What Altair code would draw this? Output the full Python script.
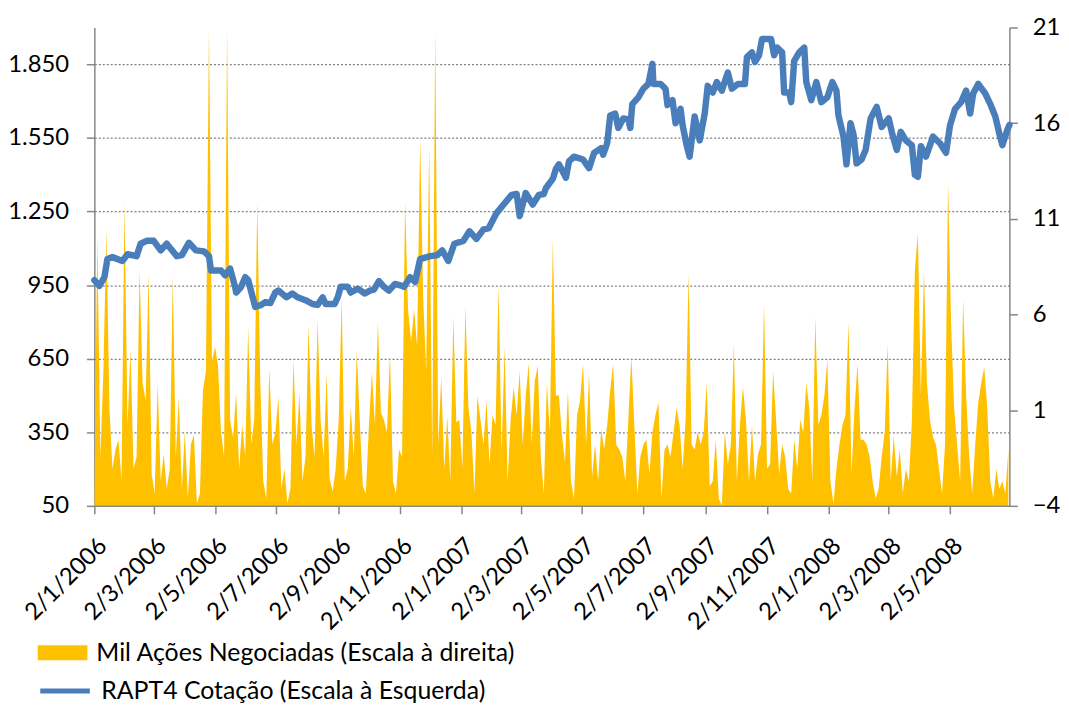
import altair as alt
import pandas as pd

FONT = "Lato"
VOL_LABEL = "Mil Ações Negociadas (Escala à direita)"
PRICE_LABEL = "RAPT4 Cotação (Escala à Esquerda)"
VOL_COLOR = "#FFC000"
PRICE_COLOR = "#4A7EBB"

# --- RAPT4 price (right scale) ---
price_dates_2006 = ["2006-01-02", "2006-01-07", "2006-01-12", "2006-01-15", "2006-01-20", "2006-01-30",
                    "2006-02-04", "2006-02-13", "2006-02-17", "2006-02-23",
                    "2006-03-02", "2006-03-09", "2006-03-15", "2006-03-25", "2006-03-30",
                    "2006-04-06", "2006-04-13", "2006-04-21", "2006-04-26", "2006-04-28",
                    "2006-05-08", "2006-05-12", "2006-05-17", "2006-05-22", "2006-05-23", "2006-05-28",
                    "2006-06-01", "2006-06-04", "2006-06-11", "2006-06-17", "2006-06-21", "2006-06-26",
                    "2006-07-01", "2006-07-04", "2006-07-12", "2006-07-18", "2006-07-23", "2006-07-31",
                    "2006-08-07", "2006-08-12", "2006-08-17", "2006-08-20", "2006-08-29",
                    "2006-09-01", "2006-09-04", "2006-09-11", "2006-09-14", "2006-09-21", "2006-09-28",
                    "2006-10-03", "2006-10-07", "2006-10-12", "2006-10-17", "2006-10-22", "2006-10-28",
                    "2006-11-04", "2006-11-06", "2006-11-12", "2006-11-17", "2006-11-22",
                    "2006-12-02", "2006-12-09", "2006-12-14", "2006-12-20", "2006-12-26"]
price_values_2006 = [7.8, 7.5, 7.95, 8.9, 9.0, 8.8,
                     9.15, 9.05, 9.7, 9.85,
                     9.85, 9.35, 9.7, 9.05, 9.1,
                     9.75, 9.35, 9.3, 9.05, 8.3,
                     8.3, 8.05, 8.4, 7.45, 7.15, 7.45,
                     7.95, 7.8, 6.4, 6.5, 6.65, 6.6,
                     7.15, 7.25, 6.9, 7.1, 6.9, 6.75,
                     6.55, 6.5, 6.9, 6.55, 6.55,
                     6.9, 7.45, 7.45, 7.15, 7.35, 7.1,
                     7.25, 7.3, 7.75, 7.45, 7.25, 7.6,
                     7.5, 7.45, 7.95, 7.7, 8.9,
                     9.05, 9.1, 9.35, 8.8, 9.7]

price_dates_2007 = ["2007-01-04", "2007-01-10", "2007-01-17", "2007-01-24", "2007-01-29",
                    "2007-02-06", "2007-02-13", "2007-02-21", "2007-02-26",
                    "2007-03-01", "2007-03-07", "2007-03-14", "2007-03-20", "2007-03-25", "2007-03-27",
                    "2007-04-03", "2007-04-06", "2007-04-09", "2007-04-16", "2007-04-19", "2007-04-24",
                    "2007-05-03", "2007-05-09", "2007-05-14", "2007-05-21", "2007-05-23", "2007-05-27", "2007-05-30",
                    "2007-06-04", "2007-06-07", "2007-06-12", "2007-06-17", "2007-06-19", "2007-06-21", "2007-06-27",
                    "2007-07-02", "2007-07-07", "2007-07-11", "2007-07-12", "2007-07-19", "2007-07-24", "2007-07-26", "2007-07-31",
                    "2007-08-03", "2007-08-08", "2007-08-10", "2007-08-14", "2007-08-17", "2007-08-22", "2007-08-27",
                    "2007-09-01", "2007-09-04", "2007-09-09", "2007-09-13", "2007-09-18", "2007-09-24", "2007-09-28",
                    "2007-10-04", "2007-10-11", "2007-10-13", "2007-10-18", "2007-10-21", "2007-10-25", "2007-10-28",
                    "2007-11-06", "2007-11-09", "2007-11-12", "2007-11-17", "2007-11-19", "2007-11-24", "2007-11-26", "2007-11-29",
                    "2007-12-04", "2007-12-09", "2007-12-11", "2007-12-16", "2007-12-21", "2007-12-26"]
price_values_2007 = [9.85, 10.35, 9.95, 10.45, 10.5,
                     11.3, 11.75, 12.25, 12.3,
                     11.15, 12.35, 11.75, 12.25, 12.3, 12.6,
                     13.1, 13.6, 13.85, 13.15, 14.0, 14.25,
                     14.1, 13.65, 14.45, 14.7, 14.35, 14.95, 16.4,
                     16.5, 15.75, 16.25, 16.2, 15.75, 17.0, 17.35,
                     17.8, 18.05, 19.1, 18.05, 18.05, 17.8, 16.95, 17.2,
                     16.0, 16.75, 15.9, 14.85, 14.25, 16.35, 15.1,
                     16.5, 17.95, 17.6, 18.15, 17.7, 18.65, 17.8,
                     18.05, 18.05, 19.45, 19.7, 19.2, 19.55, 20.4,
                     20.4, 19.55, 19.95, 19.7, 17.6, 17.6, 17.1, 19.25,
                     19.7, 19.95, 18.15, 17.2, 18.15, 17.1]

price_dates_2008 = ["2008-01-01", "2008-01-06", "2008-01-10", "2008-01-12", "2008-01-17", "2008-01-20",
                    "2008-01-24", "2008-01-27", "2008-01-30",
                    "2008-02-04", "2008-02-08", "2008-02-13", "2008-02-19", "2008-02-24",
                    "2008-03-02", "2008-03-05", "2008-03-10", "2008-03-14", "2008-03-19", "2008-03-25",
                    "2008-03-28", "2008-03-31",
                    "2008-04-03", "2008-04-08", "2008-04-15", "2008-04-22", "2008-04-28",
                    "2008-05-02", "2008-05-07", "2008-05-13", "2008-05-18", "2008-05-22", "2008-05-25", "2008-05-30",
                    "2008-06-06", "2008-06-11", "2008-06-16", "2008-06-20", "2008-06-23", "2008-06-28", "2008-06-30"]
price_values_2008 = [17.35, 18.15, 17.7, 16.4, 15.3, 13.85,
                     16.0, 15.4, 13.9,
                     14.1, 14.6, 16.25, 16.85, 15.8,
                     16.25, 15.55, 14.6, 15.55, 15.1, 14.85,
                     13.3, 13.2,
                     14.8, 14.25, 15.3, 14.95, 14.45,
                     15.9, 16.75, 17.1, 17.7, 16.5, 17.55, 18.05,
                     17.55, 17.0, 16.35, 15.45, 14.85, 15.65, 15.9]

# --- thousand shares traded (left scale), one reading every 3 days from 2006-01-02 ---
vol_start = "2006-01-02"
vol_values = [
    120, 1150, 250, 600, 1180, 450, 200, 280, 320, 150,
    1290, 380, 685, 200, 250, 1010, 550, 480, 1000, 180,
    100, 550, 150, 260, 120, 200, 990, 250, 490, 120,
    350, 80, 300, 340, 60, 100, 520, 600, 2000, 640,
    700, 620, 350, 250, 2000, 400, 330, 510, 200, 380,
    250, 780,
    300, 400, 1290, 560, 150, 80, 610, 300, 350, 495,
    120, 200, 60, 120, 645, 300, 510, 150, 250, 786,
    380, 250, 810, 400, 250, 590, 160, 110, 200, 400,
    900, 150, 200, 450, 250, 680, 395, 130, 100, 370,
    595, 380, 800, 430, 400, 350, 670, 150, 100, 280,
    250,
    1290, 850, 720, 850, 700, 1550, 900, 600, 1520, 250,
    2000, 300, 575, 200, 415, 150, 820, 390, 400, 200,
    865, 450, 350, 100, 500, 400, 300, 480, 220, 420,
    380, 950, 270, 700, 150, 400, 535, 420, 600, 300,
    500, 630, 300, 560, 620, 250, 100, 550, 350, 1140,
    500,
    500, 340, 230, 520, 150, 80, 420, 480, 630, 300,
    590, 170, 300, 150, 360, 280, 380, 520, 630, 300,
    280, 250, 150, 400, 660, 380, 100, 250, 300, 320,
    180, 350, 420, 470, 80, 280, 300, 250, 350, 450,
    380, 200, 400, 1000, 300, 280, 350, 300, 350, 550,
    130, 150, 320, 80, 50, 350, 220, 300, 710, 150,
    380, 535, 400, 150, 380, 150, 260, 300, 875, 200,
    220, 600, 400, 180, 300, 250, 120, 100, 320, 200,
    400, 350, 550, 450, 150, 820, 380, 420, 500, 645,
    150, 60, 200, 300, 380, 420, 800, 180, 450, 630,
    320,
    320, 300, 250, 150, 80, 120, 250, 350, 710, 150,
    335, 170, 280, 100, 200, 150, 390, 1010, 1160, 500,
    1010, 550, 400, 330, 300, 200, 100, 300, 1370, 800,
    450, 300, 150, 890, 500, 250, 100, 300, 470, 550,
    615, 450, 150, 80, 200, 120, 150, 100, 280,
]

left_ticks = [50, 350, 650, 950, 1250, 1550, 1850]
right_ticks = [-4, 1, 6, 11, 16, 21]
x_tick_dates = ["2006-01-02", "2006-03-02", "2006-05-02", "2006-07-02", "2006-09-02", "2006-11-02",
                "2007-01-02", "2007-03-02", "2007-05-02", "2007-07-02", "2007-09-02", "2007-11-02",
                "2008-01-02", "2008-03-02", "2008-05-02"]
x_domain = ["2006-01-02", "2008-06-30"]

price_dates = price_dates_2006 + price_dates_2007 + price_dates_2008
price_values = price_values_2006 + price_values_2007 + price_values_2008
assert len(price_dates) == len(price_values)
vol_dates = pd.date_range(vol_start, periods=len(vol_values), freq="3D").strftime("%Y-%m-%d").tolist()

vol_df = pd.DataFrame({"data": vol_dates, "vol": vol_values, "serie_v": VOL_LABEL})
price_df = pd.DataFrame({"data": price_dates, "preco": price_values, "serie_p": PRICE_LABEL})


def dt(s):
    y, m, d = (int(p) for p in s.split("-"))
    return alt.DateTime(year=y, month=m, date=d, utc=True)


x_enc = alt.X(
    "data:T",
    scale=alt.Scale(type="utc", domain=[dt(s) for s in x_domain], nice=False),
    axis=alt.Axis(
        values=[dt(s) for s in x_tick_dates],
        labelExpr="utcFormat(datum.value, '%-d/%-m/%Y')",
        labelAngle=-45,
        labelPadding=20,
        labelOverlap=False,
        labelFontSize=24,
        title=None,
        grid=False,
        zindex=1,
    ),
)

area = alt.Chart(vol_df).mark_area(clip=True, opacity=1, interpolate="linear").encode(
    x=x_enc,
    y=alt.Y(
        "vol:Q",
        scale=alt.Scale(domain=[50, 2000], nice=False, zero=False),
        axis=alt.Axis(
            orient="left",
            values=left_ticks,
            labelExpr="replace(format(datum.value, ','), ',', '.')",
            labelPadding=18,
            grid=True,
            gridDash=[2, 2],
            gridColor="#7F7F7F",
            gridWidth=1.3,
            title=None,
        ),
    ),
    fill=alt.Fill(
        "serie_v:N",
        scale=alt.Scale(domain=[VOL_LABEL], range=[VOL_COLOR]),
        legend=alt.Legend(
            orient="none", legendX=-57, legendY=605, title=None, padding=0,
            symbolType="M-1,-0.3L1,-0.3L1,0.3L-1,0.3Z", symbolSize=2500,
            symbolStrokeWidth=0, symbolOpacity=1,
            labelFont=FONT, labelFontSize=25, labelColor="#000000",
            labelOffset=9, labelLimit=800,
        ),
    ),
)

line = alt.Chart(price_df).mark_line(strokeWidth=6.5, strokeJoin="round", strokeCap="round").encode(
    x=x_enc,
    y=alt.Y(
        "preco:Q",
        scale=alt.Scale(domain=[-4, 21], nice=False, zero=False),
        axis=alt.Axis(
            orient="right",
            values=right_ticks,
            format="d",
            labelPadding=15,
            grid=False,
            title=None,
        ),
    ),
    stroke=alt.Stroke(
        "serie_p:N",
        scale=alt.Scale(domain=[PRICE_LABEL], range=[PRICE_COLOR]),
        legend=alt.Legend(
            orient="none", legendX=-57, legendY=641, title=None, padding=0,
            symbolType="stroke", symbolSize=2500, symbolStrokeWidth=5,
            labelFont=FONT, labelFontSize=25, labelColor="#000000",
            labelOffset=9, labelLimit=800,
        ),
    ),
)

chart = (
    alt.layer(area, line)
    .resolve_scale(y="independent")
    .properties(
        width=922,
        height=482,
        autosize=alt.AutoSizeParams(type="none"),
        padding={"left": 87, "top": 17, "right": 52, "bottom": 197},
    )
    .configure_view(stroke=None)
    .configure_axis(
        labelFont=FONT,
        labelFontSize=24,
        labelColor="#000000",
        domainColor="#868686",
        domainWidth=1.5,
        tickColor="#868686",
        tickWidth=1.5,
        tickSize=8,
    )
)

chart.save("out.html", embed_options={"renderer": "svg", "actions": False})
